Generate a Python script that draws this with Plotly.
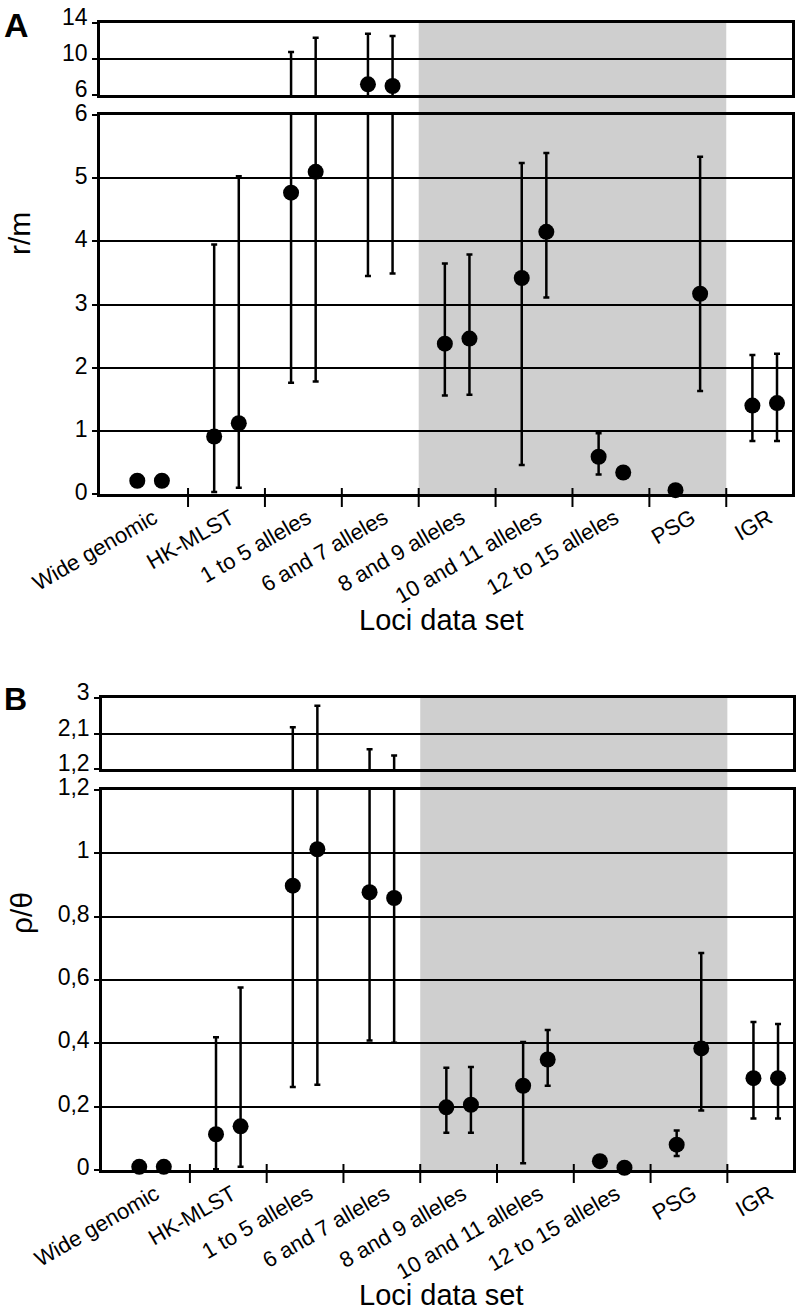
import plotly.graph_objects as go

# ---------------- data ----------------
categories = ["Wide genomic", "HK-MLST", "1 to 5 alleles", "6 and 7 alleles",
              "8 and 9 alleles", "10 and 11 alleles", "12 to 15 alleles", "PSG", "IGR"]
shaded_categories = ["8 and 9 alleles", "10 and 11 alleles", "12 to 15 alleles", "PSG"]

# Panel A : r/m  (two estimates per loci data set)
rm_first = [0.21, 0.91, 4.77, 7.19, 2.38, 3.42, 0.59, 0.06, 1.40]
rm_first_lo = [None, 0.03, 1.76, 3.45, 1.56, 0.46, 0.31, None, 0.84]
rm_first_hi = [None, 3.95, 10.78, 12.81, 3.65, 5.24, 0.96, None, 2.20]
rm_second = [0.21, 1.12, 5.10, 7.00, 2.46, 4.15, 0.34, 3.17, 1.44]
rm_second_lo = [None, 0.10, 1.78, 3.49, 1.57, 3.11, None, 1.63, 0.84]
rm_second_hi = [None, 5.03, 12.37, 12.56, 3.79, 5.40, None, 5.34, 2.22]

# Panel B : rho/theta
rt_first = [0.010, 0.113, 0.898, 0.877, 0.198, 0.266, 0.028, 0.080, 0.290]
rt_first_lo = [None, 0.002, 0.262, 0.409, 0.118, 0.021, None, 0.044, 0.163]
rt_first_hi = [None, 0.419, 2.257, 1.700, 0.323, 0.404, None, 0.125, 0.467]
rt_second = [0.010, 0.138, 1.013, 0.859, 0.206, 0.349, 0.007, 0.384, 0.290]
rt_second_lo = [None, 0.010, 0.269, 0.402, 0.118, 0.266, None, 0.188, 0.163]
rt_second_hi = [None, 0.576, 2.805, 1.540, 0.325, 0.442, None, 0.685, 0.461]

# axis ticks
a_low_ticks = [0, 1, 2, 3, 4, 5, 6]
a_low_text = ["0", "1", "2", "3", "4", "5", "6"]
a_up_ticks = [6, 10, 14]
a_up_text = ["6", "10", "14"]
b_low_ticks = [0, 0.2, 0.4, 0.6, 0.8, 1.0, 1.2]
b_low_text = ["0", "0,2", "0,4", "0,6", "0,8", "1", "1,2"]
b_up_ticks = [1.2, 2.1, 3.0]
b_up_text = ["1,2", "2,1", "3"]

# ---------------- layout helpers ----------------
W, H = 797, 1313
FONT = "Liberation Sans, Arial, sans-serif"


def px(x):
    return x / W


def py(y):
    return 1 - y / H


n = len(categories)
idx = list(range(n))
OFF = 0.16
XR = [-0.645, n - 0.645]

fig = go.Figure()


def err(v, lo, hi):
    plus = [(h - a) if h is not None else None for a, h in zip(v, hi)]
    minus = [(a - l) if l is not None else None for a, l in zip(v, lo)]
    return plus, minus


def add_series(vals, lo, hi, off, axes):
    xs = [i + off for i in idx]
    plus, minus = err(vals, lo, hi)
    for xa, ya, rng in axes:
        fig.add_trace(go.Scatter(
            x=xs, y=vals, xaxis=xa, yaxis=ya, mode="markers",
            marker=dict(size=2, opacity=0), cliponaxis=True,
            error_y=dict(type="data", symmetric=False, array=plus, arrayminus=minus,
                         color="black", thickness=2.5, width=3),
            showlegend=False, hoverinfo="skip"))
        yin = [v if rng[0] <= v <= rng[1] else None for v in vals]
        fig.add_trace(go.Scatter(
            x=xs, y=yin, xaxis=xa, yaxis=ya, mode="markers",
            marker=dict(size=16, color="black"), cliponaxis=False,
            showlegend=False, hoverinfo="skip"))


A_axes = [("x", "y", [0, 6]), ("x2", "y2", [6, 14])]
B_axes = [("x3", "y3", [0, 1.2]), ("x4", "y4", [1.2, 3])]
add_series(rm_first, rm_first_lo, rm_first_hi, -OFF, A_axes)
add_series(rm_second, rm_second_lo, rm_second_hi, OFF, A_axes)
add_series(rt_first, rt_first_lo, rt_first_hi, -OFF, B_axes)
add_series(rt_second, rt_second_lo, rt_second_hi, OFF, B_axes)

tickfont = dict(family=FONT, size=23, color="black")
common_y = dict(showline=True, linewidth=2.5, linecolor="black", mirror=True,
                showgrid=True, gridcolor="black", gridwidth=1.5, zeroline=False,
                ticks="outside", ticklen=5, tickwidth=1.5, tickcolor="black",
                tickfont=tickfont, fixedrange=True, automargin=False)
common_x = dict(showline=True, linewidth=2.5, linecolor="black", mirror=True,
                showgrid=False, zeroline=False, range=XR, fixedrange=True, automargin=False)
xlabfont = dict(family=FONT, size=22, color="black")
label_pos = [i + 0.05 for i in idx]

A_dom = [px(100), px(792)]
B_dom = [px(102), px(793)]

fig.update_layout(
    width=W, height=H, autosize=False,
    margin=dict(l=0, r=0, t=0, b=0, autoexpand=False),
    paper_bgcolor="white", plot_bgcolor="rgba(0,0,0,0)",
    font=dict(family=FONT, color="black"),
    xaxis=dict(domain=A_dom, anchor="y", tickmode="array", tickvals=label_pos,
               ticktext=categories, tickangle=-30, ticks="", tickfont=xlabfont, **common_x),
    xaxis2=dict(domain=A_dom, anchor="y2", showticklabels=False, ticks="", **common_x),
    xaxis3=dict(domain=B_dom, anchor="y3", tickmode="array", tickvals=label_pos,
                ticktext=categories, tickangle=-30, ticks="", tickfont=xlabfont, **common_x),
    xaxis4=dict(domain=B_dom, anchor="y4", showticklabels=False, ticks="", **common_x),
    yaxis=dict(domain=[py(494), py(115)], anchor="x", range=[0, 6], tickmode="array",
               tickvals=a_low_ticks, ticktext=a_low_text, ticklabelshift=-2, **common_y),
    yaxis2=dict(domain=[py(95), py(23)], anchor="x2", range=[6, 14], tickmode="array",
                tickvals=a_up_ticks, ticktext=a_up_text, ticklabelshift=-6, **common_y),
    yaxis3=dict(domain=[py(1170), py(790)], anchor="x3", range=[0, 1.2], tickmode="array",
                tickvals=b_low_ticks, ticktext=b_low_text, ticklabelshift=-3, **common_y),
    yaxis4=dict(domain=[py(769), py(698)], anchor="x4", range=[1.2, 3], tickmode="array",
                tickvals=b_up_ticks, ticktext=b_up_text, ticklabelshift=-6, **common_y),
)

# grey shading behind the shaded loci groups
s0 = categories.index(shaded_categories[0]) - 0.5
s1 = categories.index(shaded_categories[-1]) + 0.5
for xa, top, bot in [("x", 23, 494), ("x3", 698, 1170)]:
    fig.add_shape(type="rect", xref=xa, yref="paper", x0=s0, x1=s1, y0=py(bot), y1=py(top),
                  fillcolor="#cfcfcf", line=dict(width=0), layer="below")

# boundary tick marks crossing the x axis
for xa, ax_y in [("x", 494), ("x3", 1170)]:
    for b in range(n - 1):
        fig.add_shape(type="line", xref=xa, yref="paper", x0=b + 0.5, x1=b + 0.5,
                      y0=py(ax_y + 13), y1=py(ax_y - 6), line=dict(color="black", width=2))

ann = [
    dict(text="<b>A</b>", x=px(2), y=py(4), xanchor="left", yanchor="top",
         font=dict(family=FONT, size=34)),
    dict(text="<b>B</b>", x=px(2), y=py(679), xanchor="left", yanchor="top",
         font=dict(family=FONT, size=32)),
    dict(text="r/m", x=px(20), y=py(234), textangle=-90, font=dict(family=FONT, size=30),
         xanchor="center", yanchor="middle"),
    dict(text="ρ/θ", x=px(21), y=py(913), textangle=-90, font=dict(family=FONT, size=30),
         xanchor="center", yanchor="middle"),
    dict(text="Loci data set", x=px(441), y=py(620), font=dict(family=FONT, size=29),
         xanchor="center", yanchor="middle"),
    dict(text="Loci data set", x=px(441), y=py(1295), font=dict(family=FONT, size=29),
         xanchor="center", yanchor="middle"),
]
for a in ann:
    a.update(xref="paper", yref="paper", showarrow=False)
    fig.add_annotation(**a)

fig.write_html("out.html", config={"displayModeBar": False},
               post_script="document.body.style.margin='0';")
